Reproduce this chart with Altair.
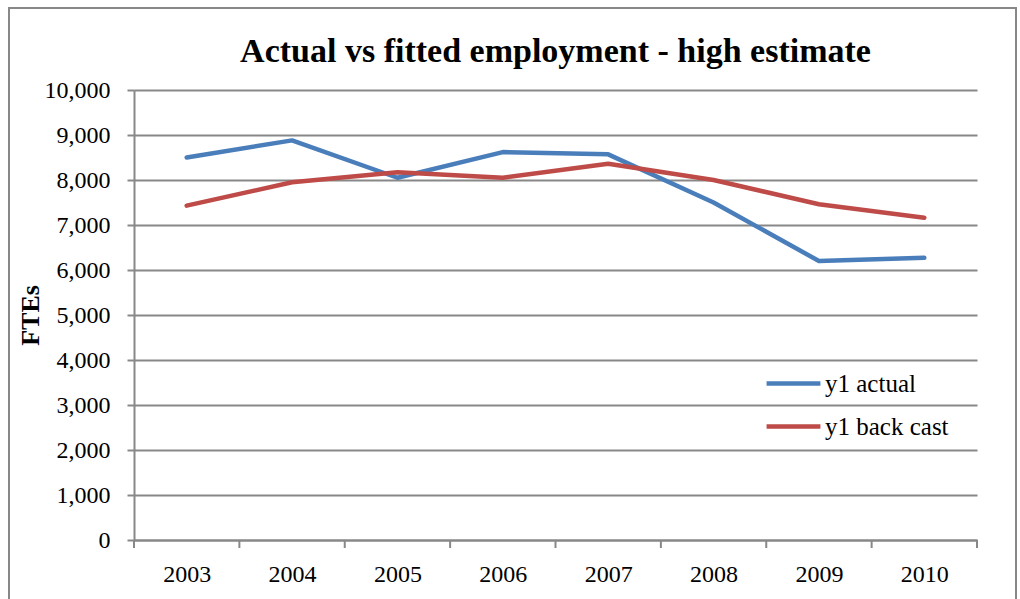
import altair as alt
import pandas as pd

years = ["2003", "2004", "2005", "2006", "2007", "2008", "2009", "2010"]
actual = [8500, 8880, 8050, 8620, 8570, 7500, 6200, 6270]
back_cast = [7430, 7950, 8170, 8050, 8360, 8000, 7460, 7160]
series_names = ["y1 actual", "y1 back cast"]
series_colors = ["#4A7EBB", "#BE4B48"]
y_ticks = list(range(0, 10001, 1000))

rows = []
for i, yr in enumerate(years):
    rows.append({"pos": i + 0.5, "year": yr, "series": series_names[0], "value": actual[i]})
    rows.append({"pos": i + 0.5, "year": yr, "series": series_names[1], "value": back_cast[i]})
df = pd.DataFrame(rows)
bounds = pd.DataFrame({"pos": list(range(len(years) + 1))})

W, H = 843, 450
FONT = "Liberation Serif"
GRID = "#888888"

label_expr = "[" + ",".join(f"'{y}'" for y in years) + "][floor(datum.value)]"
xscale = alt.Scale(domain=[0, len(years)], nice=False, zero=False)

lines = alt.Chart(df).mark_line(strokeWidth=4.5, strokeCap="round", strokeJoin="round").encode(
    x=alt.X("pos:Q", scale=xscale,
            axis=alt.Axis(values=[i + 0.5 for i in range(len(years))], labelExpr=label_expr,
                          ticks=False, grid=False, title=None, domainColor=GRID, domainWidth=2,
                          labelFont=FONT, labelFontSize=24, labelColor="black", labelPadding=22)),
    y=alt.Y("value:Q", scale=alt.Scale(domain=[0, 10000], nice=False),
            axis=alt.Axis(values=y_ticks, format=",.0f", grid=True, gridColor=GRID, gridWidth=2,
                          tickColor=GRID, tickWidth=2, tickSize=7, domainColor=GRID, domainWidth=2,
                          labelFont=FONT, labelFontSize=24, labelColor="black", labelPadding=17,
                          title="FTEs", titleFont=FONT, titleFontSize=26, titleFontWeight="bold",
                          titleColor="black", titlePadding=1)),
    color=alt.Color("series:N", scale=alt.Scale(domain=series_names, range=series_colors),
                    legend=alt.Legend(orient="none", legendX=630, legendY=264, title=None,
                                      symbolType="stroke", symbolStrokeWidth=4.5, symbolSize=2900,
                                      labelFont=FONT, labelFontSize=25, labelColor="black",
                                      labelOffset=2, rowPadding=-9)),
)

ticks = alt.Chart(bounds).mark_rule(color=GRID, strokeWidth=2).encode(
    x=alt.X("pos:Q", scale=xscale),
    y=alt.value(H),
    y2=alt.value(H + 8),
)

frame = alt.Chart(pd.DataFrame({"a": [0]})).mark_rect(
    fill="white", fillOpacity=0, stroke=GRID, strokeWidth=2
).encode(
    x=alt.value(-125), x2=alt.value(882), y=alt.value(-82), y2=alt.value(H + 80)
)

chart = alt.layer(frame, ticks, lines).properties(
    width=W, height=H,
    title=alt.TitleParams("Actual vs fitted employment - high estimate", font=FONT, fontSize=34,
                          fontWeight="bold", color="black", anchor="middle", frame="group",
                          offset=0, dy=62),
    autosize=alt.AutoSizeParams(type="none"),
    padding={"left": 134, "top": 90, "right": 43, "bottom": 59},
).configure_view(strokeOpacity=0)

chart.save("out.html", embed_options={"renderer": "svg", "actions": False})
